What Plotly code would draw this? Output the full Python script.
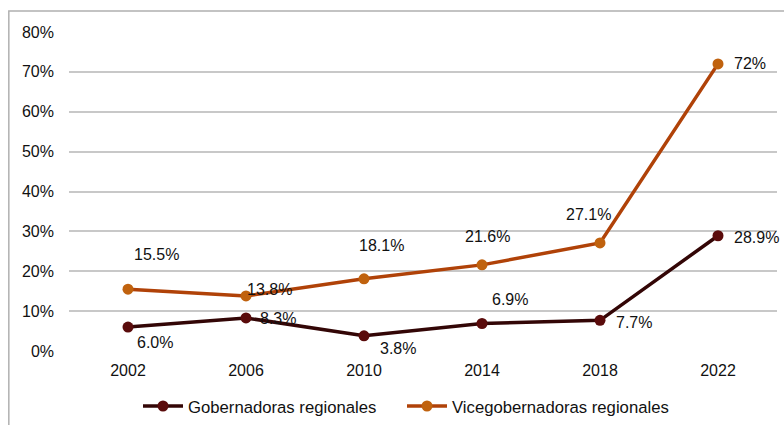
import plotly.graph_objects as go

years = ["2002", "2006", "2010", "2014", "2018", "2022"]
gobernadoras = [6.0, 8.3, 3.8, 6.9, 7.7, 28.9]
vicegobernadoras = [15.5, 13.8, 18.1, 21.6, 27.1, 72.0]
gob_labels = ["6.0%", "8.3%", "3.8%", "6.9%", "7.7%", "28.9%"]
vice_labels = ["15.5%", "13.8%", "18.1%", "21.6%", "27.1%", "72%"]
y_ticks = [0, 10, 20, 30, 40, 50, 60, 70, 80]
y_tick_text = ["0%", "10%", "20%", "30%", "40%", "50%", "60%", "70%", "80%"]

# label offsets in pixels (style only)
gob_offsets = [(27, -15), (32, -1), (34, -13), (28, 24), (34, -2), (38, -2)]
vice_offsets = [(28, 35), (23, 6), (17, 33), (5, 28), (-12, 28), (32, 0)]

FONT = "Liberation Sans, Arial, sans-serif"
GOB_LINE = "#330606"
GOB_MARK = "#5a0b0b"
VICE_LINE = "#b04208"
VICE_MARK = "#c0620e"

fig = go.Figure()
fig.add_trace(go.Scatter(
    x=years, y=gobernadoras, name="Gobernadoras regionales",
    mode="lines+markers", legend="legend",
    line=dict(color=GOB_LINE, width=3.5),
    marker=dict(color=GOB_MARK, size=11),
))
fig.add_trace(go.Scatter(
    x=years, y=vicegobernadoras, name="Vicegobernadoras regionales",
    mode="lines+markers", legend="legend2",
    line=dict(color=VICE_LINE, width=3.5),
    marker=dict(color=VICE_MARK, size=11),
))

annotations = []
for i, (v, t, (dx, dy)) in enumerate(zip(gobernadoras, gob_labels, gob_offsets)):
    annotations.append(dict(x=i, y=v, xref="x", yref="y", text=t, showarrow=False,
                            xshift=dx, yshift=dy,
                            font=dict(family=FONT, size=16, color="#111111")))
for i, (v, t, (dx, dy)) in enumerate(zip(vicegobernadoras, vice_labels, vice_offsets)):
    annotations.append(dict(x=i, y=v, xref="x", yref="y", text=t, showarrow=False,
                            xshift=dx, yshift=dy,
                            font=dict(family=FONT, size=16, color="#111111")))

legend_common = dict(orientation="h", xanchor="left", y=-0.118, yanchor="top",
                     font=dict(family=FONT, size=16.7, color="#111111"),
                     itemwidth=40, tracegroupgap=0)

fig.update_layout(
    width=784, height=425,
    margin=dict(l=69, r=7, t=32, b=74, autoexpand=False),
    paper_bgcolor="white", plot_bgcolor="white",
    font=dict(family=FONT, size=16, color="#111111"),
    annotations=annotations,
    showlegend=True,
    legend=dict(x=(138 - 69) / 708, **legend_common),
    legend2=dict(x=(402 - 69) / 708, **legend_common),
    xaxis=dict(type="category", range=[-0.5, 5.5], showgrid=False, zeroline=False,
               showline=False, ticks="", tickfont=dict(size=16), fixedrange=True,
               ticklabelstandoff=8, automargin=False),
    yaxis=dict(range=[0, 80], tickvals=y_ticks, ticktext=y_tick_text,
               showgrid=True, gridcolor="#c8c8c8", gridwidth=1.5, zeroline=False,
               showline=False, ticks="", ticklabelstandoff=14, tickfont=dict(size=16),
               automargin=False),
    shapes=[dict(type="rect", xref="paper", yref="paper",
                 x0=-0.085, x1=1.05, y0=-0.3, y1=1.066,
                 line=dict(color="#b0b0b0", width=1.5), fillcolor="rgba(0,0,0,0)",
                 layer="below")],
)

fig.write_html("out.html", config={"displayModeBar": False},
               post_script=["document.body.style.margin='0px';"])
